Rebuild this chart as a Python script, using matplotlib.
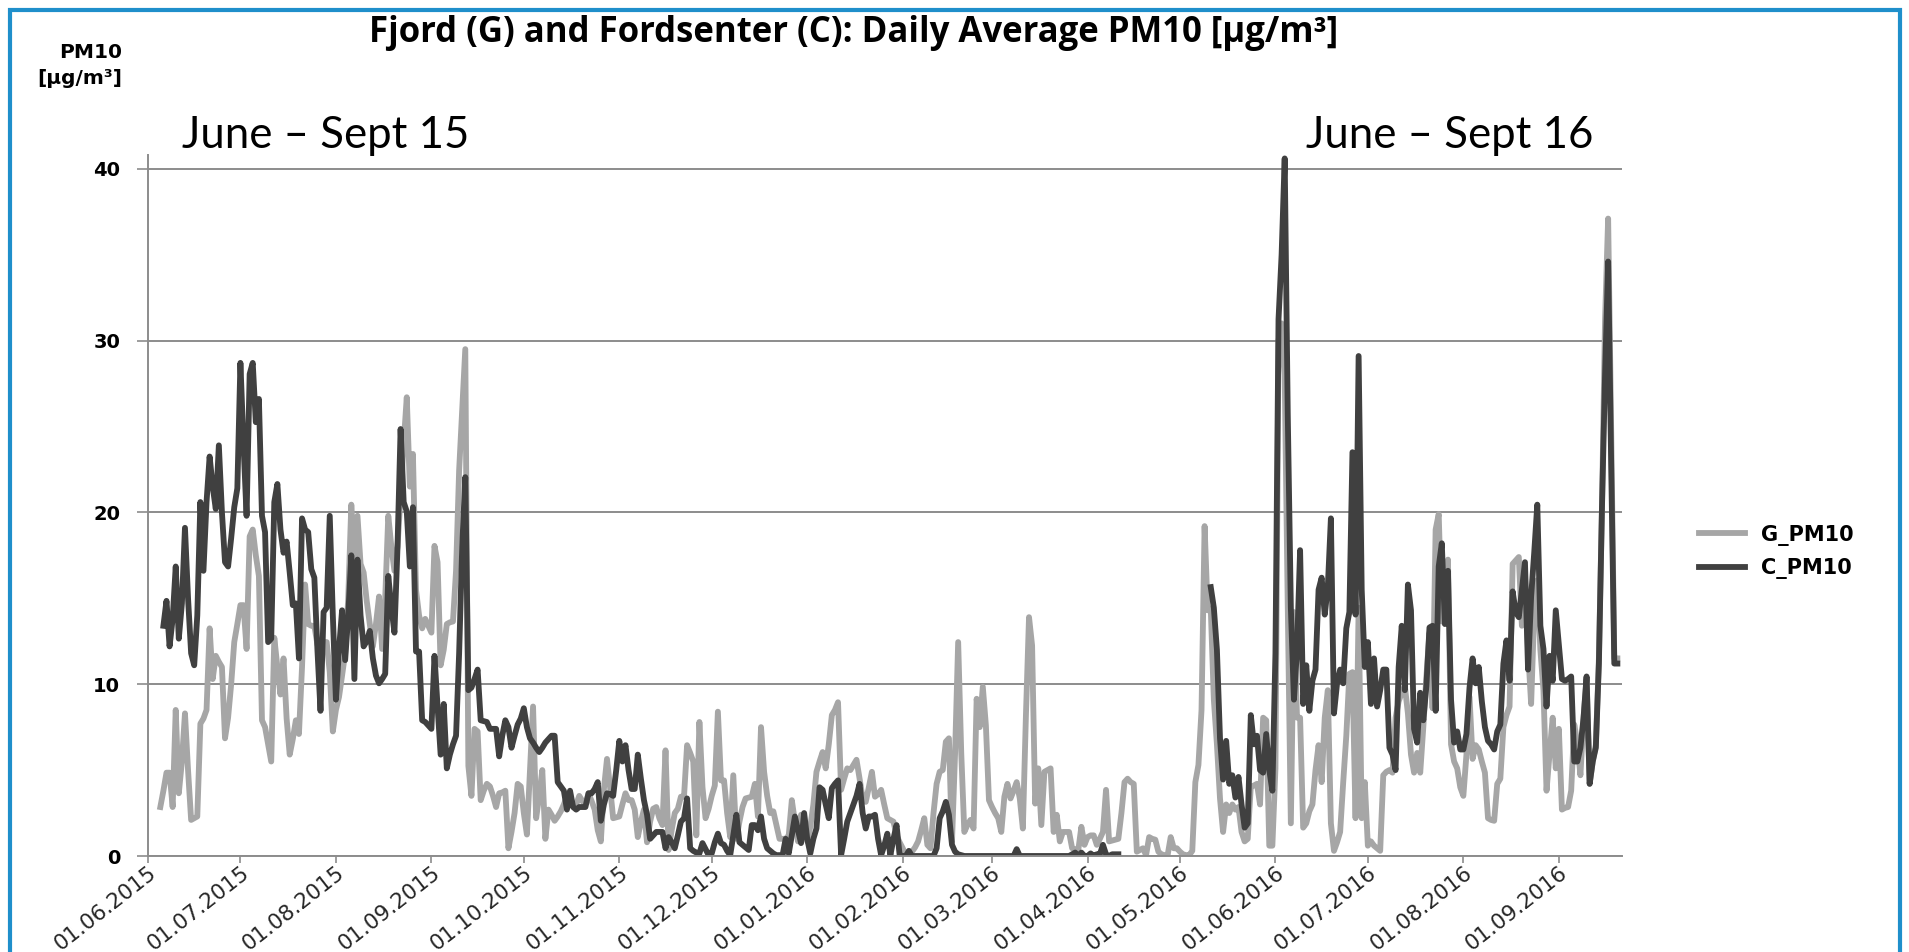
import numpy as np
import pandas as pd
import matplotlib
matplotlib.use("Agg")
import matplotlib.pyplot as plt
import matplotlib.dates as mdates
from matplotlib.patches import Rectangle

# daily averages from 01.06.2015, rows of 10 days, None = no data
g_pm10 = [
    None, None, None, None, 2.85, 3.8, 4.85, 4.85, 2.85, 8.5,
    3.65, 5.5, 8.3, 5, 2.1, 2.2, 2.3, 7.7, 8, 8.5,
    13.25, 10.3, 11.65, 11.3, 11, 6.85, 8.05, 10, 12.45, 13.5,
    14.6, 14.6, 12.05, 18.6, 19, 17.5, 16.3, 7.9, 7.5, 6.5,
    5.5, 12.7, 11, 9.4, 11.5, 8, 5.9, 6.8, 7.9, 7.1,
    11, 15.8, 13.5, 13.4, 13.4, 12.3, 12.4, 12.45, 12.45, 10.7,
    7.25, 8.5, 9.25, 10.5, 11.8, 15, 20.45, 17.1, 19.8, 17,
    16.5, 14.85, 13.5, 12.2, 13.5, 15.1, 12.05, 15, 19.8, 18,
    16.6, 18, 21, 24, 26.7, 21.5, 23.4, 15.5, 14, 13.25,
    13.8, 13.4, 13, 18.05, 17.1, 11.1, 12, 13.5, 13.6, 13.65,
    16.6, 22.45, 26, 29.5, 5.25, 3.5, 7.4, 7.25, 3.25, 3.8,
    4.2, 4.05, 3.5, 2.85, 3.65, 3.7, 3.8, 0.45, 1.4, 2.5,
    4.2, 4.05, 2.5, 1.25, 5, 8.7, 2.2, 3.5, 5, 1,
    2.7, 2.4, 2.05, 2.3, 2.6, 3, 3.5, 3.2, 3, 3,
    3.5, 3.2, 3, 3.65, 3.2, 2.7, 1.5, 0.85, 3.9, 5.65,
    4, 2.2, 2.25, 2.3, 3, 3.65, 3.25, 3.25, 2.7, 1.1,
    2, 2.7, 0.8, 2, 2.75, 2.85, 2.2, 1.8, 6.15, 0.35,
    1.5, 2.5, 2.75, 3.45, 3.45, 6.45, 6, 5.5, 1.2, 7.8,
    4, 2.2, 2.75, 3.5, 4.1, 8.4, 4.4, 4.4, 2.5, 1.1,
    4.7, 1, 2, 2.85, 3.35, 3.4, 3.45, 4.2, 2.3, 7.5,
    4.9, 3.5, 2.5, 2.6, 1.8, 1, 1, 1, 1.2, 3.25,
    2, 0.85, 2.4, 1.5, 0.85, 1.7, 3, 4.9, 5.5, 6.05,
    5.1, 6.5, 8.2, 8.5, 8.95, 3.85, 4.5, 5.1, 5, 5.3,
    5.6, 4.5, 3.35, 3.15, 4, 4.9, 3.45, 3.6, 3.85, 3,
    2.2, 2.1, 2, 1.2, 0.8, 0.45, 0.05, 0.1, 0.25, 0.5,
    0.85, 1.5, 2.2, 0.65, 0.45, 2.5, 4.2, 4.9, 5, 6.65,
    6.85, 0.85, 6, 12.45, 6, 1.4, 1.8, 2.1, 1.6, 9.15,
    7.5, 9.85, 7.6, 3.25, 2.85, 2.5, 2.2, 1.4, 3.45, 4.2,
    3.35, 3.8, 4.3, 3.35, 1.6, 8.2, 13.9, 12.25, 3.05, 5.1,
    1.8, 4.9, 5, 5.1, 1.4, 2.4, 0.85, 1.4, 1.4, 1.4,
    0.45, 0.4, 0.35, 1.7, 0.65, 1.1, 1.2, 1.2, 0.65, 1,
    1.4, 3.85, 0.85, 0.9, 0.95, 1, 2.5, 4.3, 4.5, 4.3,
    4.2, 0.25, 0.35, 0.45, 0.05, 1.1, 1, 0.95, 0.25, 0.1,
    0.05, 0.05, 1.1, 0.45, 0.45, 0.25, 0.1, 0.05, 0.05, 0.3,
    4.3, 5.3, 8.5, 19.2, 14.3, 14.4, 9.1, 6.5, 3.35, 1.4,
    3, 2.5, 3, 2.7, 2.85, 1.4, 0.85, 1, 4.05, 4.1,
    4.2, 3, 8.05, 7.9, 0.6, 0.6, 5.1, 30, 31, 28,
    14.45, 1.9, 14.2, 8.05, 8.05, 1.65, 1.9, 2.6, 3, 5,
    6.45, 4.3, 8.05, 9.65, 1.9, 0.3, 0.8, 1.4, 4.3, 7,
    10.6, 10.7, 2.2, 14.45, 2.2, 4.3, 0.6, 0.85, 0.6, 0.45,
    0.3, 4.7, 4.9, 5, 4.85, 8.05, 9, 9.5, 9.9, 8.3,
    5.9, 4.85, 6, 4.85, 7.5, 10.45, 13, 8.6, 19, 19.9,
    13.65, 15, 17.25, 6.5, 5.5, 5.1, 4, 3.5, 5.9, 9.25,
    5.65, 6.45, 6.2, 5.5, 4.85, 2.2, 2.1, 2.05, 4.2, 4.5,
    7.5, 8.2, 8.7, 17, 17.2, 17.4, 13.4, 16.3, 12, 8.85,
    14.2, 16.05, 12, 9.65, 3.8, 6, 8.05, 5.1, 7.4, 2.7,
    2.8, 2.85, 3.8, 7.65, 6.6, 4.7, 8, 10.3, 4.2, 5.5,
    6.45, 11.5, 20.3, 31.25, 37.1, 24.6, 11.5, 11.5,
]

c_pm10 = [
    None, None, None, None, None, 13.4, 14.85, 12.2, 13.8, 16.85,
    12.65, 14.7, 19.1, 15, 11.8, 11.1, 14, 20.6, 16.6, 20.6,
    23.25, 21.5, 20.2, 23.9, 20, 17.1, 16.85, 18.5, 20.3, 21.4,
    28.7, 24, 19.8, 28.05, 28.7, 25.25, 26.6, 19.8, 18.85, 12.45,
    12.65, 20.6, 21.65, 19, 17.65, 18.3, 16.5, 14.6, 14.7, 11.5,
    19.65, 19, 18.85, 16.7, 16.2, 12, 8.45, 14.2, 14.45, 19.8,
    14, 9.1, 12, 14.3, 11.4, 14, 17.5, 10.3, 17.25, 14,
    12.2, 12.5, 13.1, 11.5, 10.5, 10.05, 10.3, 10.6, 16.3, 14.5,
    13, 18, 24.85, 20.6, 20.05, 16.85, 20.3, 11.9, 11.9, 7.9,
    7.8, 7.6, 7.4, 11.65, 8.7, 5.9, 8.85, 5.1, 5.9, 6.5,
    7, 11.8, 18, 22.05, 9.65, 9.8, 10.3, 10.85, 7.9, 7.85,
    7.8, 7.4, 7.4, 7.4, 5.8, 7, 7.9, 7.5, 6.3, 7,
    7.65, 8, 8.6, 7.5, 6.85, 6.6, 6.3, 6.05, 6.3, 6.6,
    6.8, 7, 7, 4.3, 4.05, 3.8, 2.7, 3.8, 2.85, 2.7,
    2.85, 2.85, 2.85, 3.65, 3.65, 3.9, 4.3, 2.05, 3, 3.65,
    3.6, 3.5, 5, 6.7, 5.5, 6.45, 5, 3.9, 3.9, 5.9,
    4.5, 3.25, 2.4, 1, 1.2, 1.4, 1.4, 1.4, 0.45, 1.1,
    0.8, 0.45, 1.2, 2, 2.2, 3.35, 0.45, 0.3, 0.2, 0.15,
    0.75, 0.4, 0.05, 0.15, 0.8, 1.3, 0.75, 0.65, 0.3, 0.05,
    1.2, 2.4, 0.8, 0.65, 0.5, 0.35, 1.8, 1.8, 1.5, 2.3,
    1, 0.45, 0.3, 0.15, 0.05, 0.05, 0.05, 1, 0.15, 1.2,
    2.3, 1.5, 0.75, 2.5, 1, 0.15, 1, 1.6, 4, 3.85,
    3, 2.2, 3.95, 4.2, 4.4, 0.05, 1, 2, 2.5, 3,
    3.5, 4.2, 2.5, 1.6, 2.3, 2.3, 2.4, 1, 0.05, 0.6,
    1.3, 0.05, 1, 1.8, 0.05, 0, 0, 0.3, 0, 0,
    0, 0, 0, 0, 0, 0, 0.45, 2.2, 2.6, 3.15,
    2.4, 0.65, 0.25, 0.1, 0.05, 0, 0, 0, 0, 0,
    0, 0, 0, 0, 0, 0, 0, 0, 0, 0,
    0, 0, 0.4, 0, 0, 0, 0, 0, 0, 0,
    0, 0, 0, 0, 0, 0, 0, 0, 0, 0,
    0.1, 0.2, 0, 0.2, 0, 0, 0.15, 0, 0.1, 0.1,
    0.65, 0.1, 0, 0.1, 0.1, 0.1, None, None, None, None,
    None, None, None, None, None, None, None, None, None, None,
    None, None, None, None, None, None, None, None, None, None,
    None, None, None, None, None, 15.65, 14.45, 12, 6.85, 4.45,
    6.7, 4.2, 4.7, 3.4, 4.6, 3, 1.65, 1.9, 8.2, 6.5,
    7, 5, 4.85, 7.1, 5, 3.8, 11.8, 31.25, 35, 40.6,
    25.65, 14.45, 9.1, 12, 17.8, 8.85, 11.1, 8.45, 10.2, 10.85,
    15.5, 16.2, 14.05, 15.65, 19.65, 8.3, 10.05, 10.85, 10.05, 13.25,
    14.2, 23.5, 14.05, 29.1, 15.5, 11, 12.45, 8.85, 11.5, 8.7,
    9.65, 10.85, 10.85, 6.3, 5.9, 5, 11, 13.4, 9.65, 15.8,
    14.3, 7.4, 6.6, 9.5, 7.9, 9.9, 13.3, 13.4, 8.45, 16.85,
    18.2, 13.5, 16.6, 9.1, 6.6, 7.25, 6.2, 6.2, 7.1, 9.8,
    11.5, 10.05, 11, 9, 7.5, 6.7, 6.5, 6.2, 7.25, 7.65,
    11.2, 12.55, 10.2, 15.4, 14.2, 13.9, 15.5, 17.1, 10.85, 15.1,
    17.65, 20.45, 13.4, 12.05, 8.7, 11.65, 10.2, 14.3, 12.3, 10.3,
    10.2, 10.3, 10.45, 5.5, 5.5, 6.3, 8, 10.45, 4.2, 5.5,
    6.3, 11.2, 20.3, 28, 34.6, 22.65, 11.2, 11.2,
]

start_date = "2015-06-01"
y_ticks = [0, 10, 20, 30, 40]
series_names = ["G_PM10", "C_PM10"]

g = np.array(g_pm10, dtype=float)
c = np.array(c_pm10, dtype=float)
dates = pd.date_range(start_date, periods=len(g), freq="D")

plt.rcParams['font.family'] = ['Open Sans', 'DejaVu Sans']
wide = ['DejaVu Sans']

fig = plt.figure(figsize=(19.09, 9.52), dpi=100)
ax = fig.add_axes([148 / 1909, 1 - 856 / 952, (1622 - 148) / 1909, (856 - 155) / 952])

ax.plot(dates, g, color='#a6a6a6', lw=4.2, label=series_names[0], solid_joinstyle='round')
ax.plot(dates[:len(c)], c, color='#404040', lw=4.2, label=series_names[1], solid_joinstyle='round')

ax.set_xlim(pd.Timestamp(start_date), pd.Timestamp(start_date) + pd.Timedelta(days=478.5))
ax.set_ylim(0, 40.8)
ax.set_yticks(y_ticks)
ax.yaxis.grid(True, color='#8c8c8c', lw=1.4)
ax.set_axisbelow(True)

ax.xaxis.set_major_locator(mdates.MonthLocator())
ax.xaxis.set_major_formatter(mdates.DateFormatter('%d.%m.%Y'))
ax.tick_params(axis='x', length=5, width=1.2, color='#8c8c8c', pad=0)
ax.tick_params(axis='y', length=8, width=1.2, color='#8c8c8c', pad=12)
for lbl in ax.get_xticklabels():
    lbl.set_rotation(38)
    lbl.set_ha('right')
    lbl.set_va('top')
    lbl.set_rotation_mode('anchor')
    lbl.set_family(wide)
    lbl.set_fontsize(15.5)
    lbl.set_color('#262626')
for lbl in ax.get_yticklabels():
    lbl.set_family(wide)
    lbl.set_fontsize(14)
    lbl.set_fontweight('bold')

for s in ['top', 'right']:
    ax.spines[s].set_visible(False)
for s in ['left', 'bottom']:
    ax.spines[s].set_color('#8c8c8c')
    ax.spines[s].set_linewidth(1.4)

fig.text(0.447, 0.965, 'Fjord (G) and Fordsenter (C): Daily Average PM10 [µg/m³]',
         ha='center', va='center', fontsize=25, fontweight='bold')
fig.text(122 / 1909, 1 - 53 / 952, 'PM10', ha='right', va='center', fontsize=14.5,
         fontweight='bold', family=wide)
fig.text(122 / 1909, 1 - 79 / 952, '[µg/m³]', ha='right', va='center', fontsize=14.5,
         fontweight='bold', family=wide)

fig.text(182 / 1909, 1 - 136 / 952, 'June – Sept 15', ha='left', va='center', fontsize=31.5,
         family=['Lato', 'DejaVu Sans'])
fig.text(1306 / 1909, 1 - 136 / 952, 'June – Sept 16', ha='left', va='center', fontsize=31.5,
         family=['Lato', 'DejaVu Sans'])

leg = fig.legend(loc='center left', bbox_to_anchor=(1680 / 1909, 1 - 552 / 952), frameon=False,
                 prop={'family': wide, 'weight': 'bold', 'size': 15}, handlelength=2.2,
                 labelspacing=0.6)

fig.patches.append(Rectangle((10 / 1909, -0.1), 1890 / 1909, 1.1 - 10 / 952, transform=fig.transFigure,
                             fill=False, edgecolor='#1f8fcb', lw=3))

fig.savefig('out.png', dpi=100)
